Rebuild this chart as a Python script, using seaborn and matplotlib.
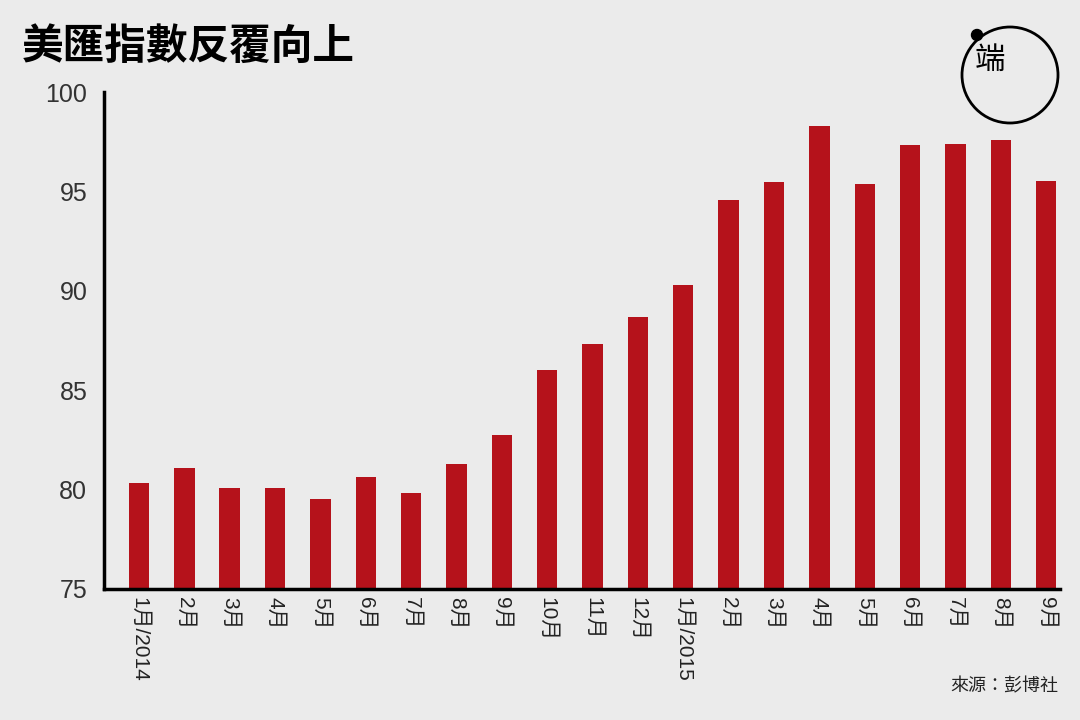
import matplotlib
matplotlib.use("Agg")
import matplotlib.pyplot as plt
import seaborn as sns
import pandas as pd
from matplotlib.patches import Ellipse

labels = ["1月/2014","2月","3月","4月","5月","6月","7月","8月","9月","10月","11月","12月",
          "1月/2015","2月","3月","4月","5月","6月","7月","8月","9月"]
values = [80.33,81.09,80.08,80.08,79.53,80.63,79.83,81.29,82.75,86.02,87.32,88.68,
          90.29,94.57,95.47,98.29,95.37,97.33,97.38,97.58,95.52]

sns.set_theme(style="white")
plt.rcParams['font.family'] = ['Liberation Sans', 'Noto Sans CJK TC', 'DejaVu Sans']
bg = "#ebebeb"
fig = plt.figure(figsize=(10.8, 7.2), dpi=100, facecolor=bg)
ax = fig.add_axes([0.0963, 0.182, 0.885, 0.69], facecolor=bg)
df = pd.DataFrame({"x": range(len(labels)), "v": values})
sns.barplot(data=df, x="x", y="v", color="#b5121b", width=0.45, saturation=1, ax=ax, linewidth=0)
ax.set_ylim(75, 100)
ax.set_xlim(-0.77, 20.3)
ax.set_yticks([75, 80, 85, 90, 95, 100])
ax.set_xticks(range(len(labels)))
ax.set_xticklabels(labels, rotation=-90, va="top", ha="center", fontsize=15, color="#222")
ax.tick_params(axis="y", labelsize=18, colors="#333", length=0, pad=12)
ax.tick_params(axis="x", length=0, pad=6)
ax.set_xlabel(""); ax.set_ylabel("")
for s in ["top", "right"]:
    ax.spines[s].set_visible(False)
for s in ["left", "bottom"]:
    ax.spines[s].set_color("black"); ax.spines[s].set_linewidth(2.5)

fig.text(0.02, 0.935, "美匯指數反覆向上", fontsize=30, fontweight="heavy", color="black", va="center",
         family=['Noto Sans CJK TC'])
fig.text(0.98, 0.04, "來源：彭博社", fontsize=13, ha="right", color="#222", family=['Noto Sans CJK TC'])
fig.patches.append(Ellipse((1010/1080, 1-75/720), 96/1080, 96/720, transform=fig.transFigure,
                           fill=False, edgecolor="black", linewidth=2))
fig.patches.append(Ellipse((977/1080, 1-35/720), 11/1080, 11/720, transform=fig.transFigure,
                           color="black"))
fig.text(990/1080, 1-60/720, "端", fontsize=22, ha="center", va="center", color="black",
         family=['Noto Sans CJK TC'])
fig.savefig("out.png", facecolor=bg)
